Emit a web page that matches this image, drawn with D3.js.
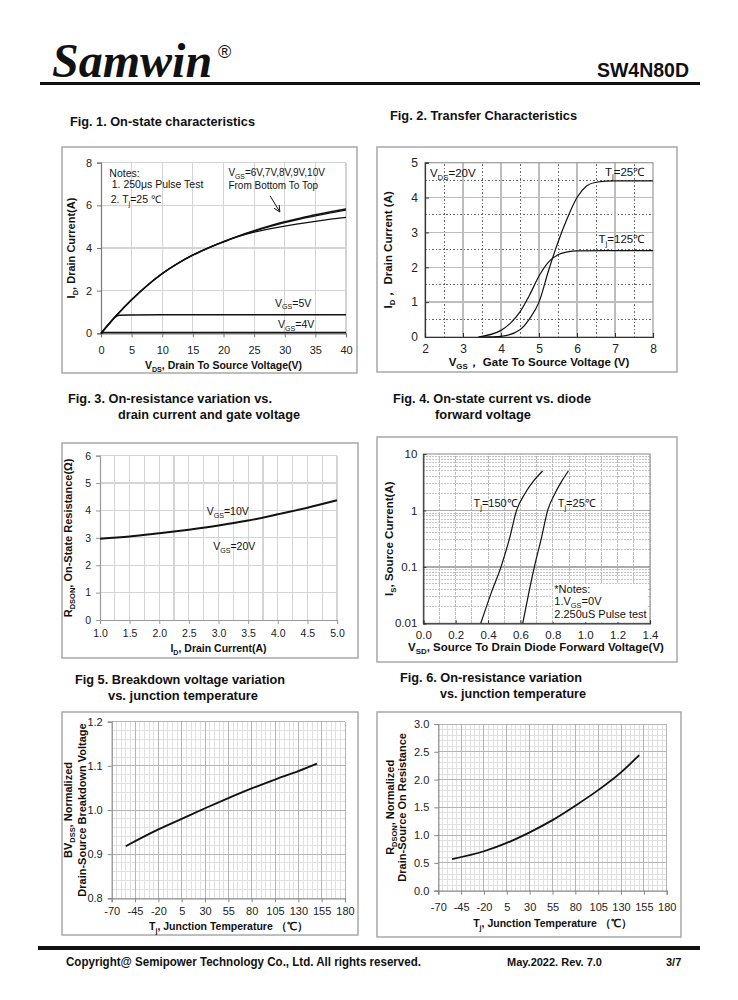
<!DOCTYPE html>
<html><head><meta charset="utf-8">
<script src="https://cdn.jsdelivr.net/npm/d3@7"></script>
<style>body{margin:0;background:#fff}svg{display:block}</style>
</head><body><svg id="c" width="738" height="1000" font-family="'Liberation Sans',Arial,sans-serif"></svg>
<script>
// ---------------- DATA ----------------
// Fig 1: On-state characteristics
const fig1Vds = [0,1,2.5,5,7.5,10,12.5,15,17.5,20,22.5,25,27.5,30,32.5,35,37.5,40];
const fig1Id10V = [0,0.34,0.83,1.57,2.23,2.8,3.27,3.67,4.0,4.3,4.57,4.81,5.03,5.23,5.4,5.56,5.7,5.83];
const fig1Id8V  = [0,0.34,0.83,1.57,2.23,2.8,3.27,3.67,4.0,4.3,4.56,4.79,5.0,5.19,5.36,5.51,5.65,5.78];
const fig1Id6V  = [0,0.34,0.83,1.57,2.23,2.8,3.27,3.67,4.0,4.28,4.54,4.74,4.9,5.03,5.14,5.25,5.35,5.44];
const fig1Vds5V = [0,1,2,2.5,3,5,10,20,40];
const fig1Id5V  = [0,0.34,0.67,0.8,0.85,0.86,0.87,0.87,0.87];
const fig1Vds4V = [0,0.5,40];
const fig1Id4V  = [0,0.04,0.04];
const fig1XTicks = [0,5,10,15,20,25,30,35,40];
const fig1YTicks = [0,2,4,6,8];
// Fig 2: Transfer characteristics
const fig2Vgs25 = [3.5,4.0,4.5,4.75,5.0,5.25,5.5,5.75,6.0,6.25,6.5,7.0,8.0];
const fig2Id25  = [0,0.02,0.21,0.52,1.0,1.9,2.72,3.42,4.0,4.33,4.44,4.48,4.48];
const fig2Vgs125 = [3.4,4.0,4.25,4.5,4.75,5.0,5.25,5.5,5.75,6.0,7.0,8.0];
const fig2Id125  = [0,0.19,0.4,0.72,1.2,1.75,2.15,2.36,2.44,2.47,2.48,2.48];
const fig2XTicks = [2,3,4,5,6,7,8];
const fig2YTicks = [0,1,2,3,4,5];
// Fig 3: On-resistance vs drain current
const fig3Id = [1.0,1.5,2.0,2.5,3.0,3.5,4.0,4.5,5.0];
const fig3R  = [2.97,3.05,3.17,3.3,3.45,3.63,3.86,4.1,4.37];
const fig3XTicks = [1.0,1.5,2.0,2.5,3.0,3.5,4.0,4.5,5.0];
const fig3YTicks = [0,1,2,3,4,5,6];
// Fig 4: Body diode forward voltage
const fig4Vsd150 = [0.355,0.42,0.48,0.53,0.576,0.628,0.68,0.737];
const fig4Is150  = [0.01,0.035,0.1,0.3,1,2,3.3,5];
const fig4Vsd25  = [0.614,0.65,0.686,0.73,0.768,0.813,0.855,0.896];
const fig4Is25   = [0.01,0.033,0.1,0.33,1,2,3.3,5];
const fig4XTicks = [0,0.2,0.4,0.6,0.8,1.0,1.2,1.4];
const fig4YTicks = [0.01,0.1,1,10];
// Fig 5: Breakdown voltage vs temperature
const tempC = [-55,-20,5,30,55,80,105,130,150];
const fig5BV = [0.918,0.956,0.98,1.004,1.027,1.049,1.069,1.088,1.105];
const fig5YTicks = [0.8,0.9,1.0,1.1,1.2];
// Fig 6: On-resistance vs temperature
const fig6R = [0.57,0.71,0.86,1.05,1.27,1.53,1.81,2.13,2.44];
const fig6YTicks = [0,0.5,1.0,1.5,2.0,2.5,3.0];
const tempTicks = [-70,-45,-20,5,30,55,80,105,130,155,180];

// ---------------- HELPERS ----------------
const SANS = "'Liberation Sans',Arial,sans-serif";
const svg = d3.select('#c');
svg.append('rect').attr('width',738).attr('height',1000).attr('fill','#fff');

function rich(t, parts, fs){
  let sub = false; const sh = fs*0.25;
  parts.forEach(p=>{
    if (typeof p === 'string'){
      const s = t.append('tspan').text(p);
      if (sub){ s.attr('dy', -sh); sub=false; }
    } else {
      t.append('tspan').text(p.s).attr('font-size', fs*0.68).attr('dy', sub?0:sh);
      sub = true;
    }
  });
  return t;
}
function label(g, x, y, parts, fs, opts={}){
  const t = g.append('text').attr('x',x).attr('y',y).attr('font-size',fs).attr('fill','#111')
    .attr('font-weight', opts.bold?'bold':'normal')
    .attr('text-anchor', opts.anchor||'start');
  if (opts.rot) t.attr('transform',`rotate(-90,${x},${y})`);
  rich(t, parts, fs);
  return t;
}
function panel(p){
  svg.append('rect').attr('x',p[0]).attr('y',p[1]).attr('width',p[2]-p[0]).attr('height',p[3]-p[1])
    .attr('fill','#fff').attr('stroke','#a8a8a8').attr('stroke-width',1.5);
}
function vgrid(g, x, y, vals, color, w, dash){
  g.append('g').selectAll('line').data(vals).join('line')
    .attr('x1',d=>x(d)).attr('x2',d=>x(d)).attr('y1',y.range()[0]).attr('y2',y.range()[1])
    .attr('stroke',color).attr('stroke-width',w).attr('stroke-dasharray',dash||null).attr('shape-rendering','crispEdges');
}
function hgrid(g, x, y, vals, color, w, dash){
  g.append('g').selectAll('line').data(vals).join('line')
    .attr('y1',d=>y(d)).attr('y2',d=>y(d)).attr('x1',x.range()[0]).attr('x2',x.range()[1])
    .attr('stroke',color).attr('stroke-width',w).attr('stroke-dasharray',dash||null).attr('shape-rendering','crispEdges');
}
function axes(g, x, y, o){
  const xa = g.append('g').attr('transform',`translate(0,${y.range()[0]})`)
    .call(d3.axisBottom(x).tickValues(o.xt).tickFormat(o.xf||(d=>d)).tickSize(o.ts).tickPadding(o.xp));
  const ya = g.append('g').attr('transform',`translate(${x.range()[0]},0)`)
    .call(d3.axisLeft(y).tickValues(o.yt).tickFormat(o.yf||(d=>d)).tickSize(o.ts).tickPadding(o.yp));
  [xa,ya].forEach(a=>{
    a.attr('font-family',SANS).attr('font-size',o.fs);
    a.selectAll('text').attr('fill','#222');
    a.select('.domain').attr('stroke',o.ac||'#777').attr('stroke-width',1.2);
    a.selectAll('.tick line').attr('stroke',o.ac||'#777');
  });
  xa.selectAll('text').attr('dy',null).attr('dominant-baseline','alphabetic').attr('y',o.xb);
}
function curve(g, x, y, xs, ys, w){
  const line = d3.line().x(d=>x(d[0])).y(d=>y(d[1])).curve(d3.curveMonotoneX);
  g.append('path').attr('d', line(xs.map((v,i)=>[v,ys[i]]))).attr('fill','none')
    .attr('stroke','#111').attr('stroke-width',w||1.4);
}

// ---------------- HEADER / FOOTER ----------------
svg.append('text').attr('x',52).attr('y',77).style('font-family',"'Liberation Serif','Times New Roman',serif")
  .attr('font-weight','bold').attr('font-style','italic').attr('font-size',48).attr('fill','#111').text('Samwin');
svg.append('text').attr('x',218).attr('y',58).attr('font-size',18).attr('fill','#111').text('®');
svg.append('text').attr('x',689).attr('y',77).attr('text-anchor','end').attr('font-weight','bold').attr('font-size',19.5).attr('fill','#111').text('SW4N80D');
svg.append('rect').attr('x',40).attr('y',82).attr('width',660).attr('height',3).attr('fill','#111');
svg.append('rect').attr('x',38).attr('y',946).attr('width',662).attr('height',4).attr('fill','#111');
svg.append('text').attr('x',66).attr('y',966).attr('font-weight','bold').attr('font-size',12.5).attr('fill','#111')
  .attr('textLength',355).attr('lengthAdjust','spacingAndGlyphs').text('Copyright@ Semipower Technology Co., Ltd. All rights reserved.');
svg.append('text').attr('x',507).attr('y',966).attr('font-weight','bold').attr('font-size',11).attr('fill','#111')
  .attr('textLength',95).attr('lengthAdjust','spacingAndGlyphs').text('May.2022. Rev. 7.0');
svg.append('text').attr('x',666).attr('y',966).attr('font-weight','bold').attr('font-size',11).attr('fill','#111').text('3/7');

const figTitles = [
  [70,126,'Fig. 1. On-state characteristics',185],
  [390,120,'Fig. 2. Transfer Characteristics',187],
  [68,403,'Fig. 3. On-resistance variation vs.',204],
  [118,419,'drain current and gate voltage',182],
  [393,403,'Fig. 4. On-state current vs. diode',198],
  [435,419,'forward voltage',96],
  [75,684,'Fig 5. Breakdown voltage variation',210],
  [108,700,'vs. junction temperature',150],
  [400,682,'Fig. 6. On-resistance variation',182],
  [440,698,'vs. junction temperature',146]
];
figTitles.forEach(d=>svg.append('text').attr('x',d[0]).attr('y',d[1]).attr('font-weight','bold').attr('fill','#111')
  .attr('font-size',12.5).attr('textLength',d[3]).attr('lengthAdjust','spacingAndGlyphs').text(d[2]));

// ---------------- FIG 1 ----------------
{
  panel([62,147,357,373]);
  const g = svg.append('g');
  const x = d3.scaleLinear().domain([0,40]).range([101,346]);
  const y = d3.scaleLinear().domain([0,8]).range([333.3,162.7]);
  vgrid(g,x,y,fig1XTicks.slice(1),'#d4d4d4',1.2);
  hgrid(g,x,y,fig1YTicks.slice(1),'#d4d4d4',1.2);
  axes(g,x,y,{xt:fig1XTicks,yt:fig1YTicks,ts:4,xp:8,yp:5,fs:11,xb:21});
  curve(g,x,y,fig1Vds,fig1Id6V,1.3);
  curve(g,x,y,fig1Vds,fig1Id8V,1.3);
  curve(g,x,y,fig1Vds,fig1Id10V,1.5);
  curve(g,x,y,fig1Vds5V,fig1Id5V,1.5);
  curve(g,x,y,fig1Vds4V,fig1Id4V,1.5);
  const fs=10.5;
  label(g,x(1.36),y(7.33),['Notes:'],fs);
  label(g,x(1.75),y(6.8),['1. 250μs  Pulse Test'],fs);
  label(g,x(1.58),y(6.09),['2. T',{s:'j'},'=25 ℃'],fs);
  label(g,x(20.8),y(7.36),['V',{s:'GS'},'=6V,7V,8V,9V,10V'],10);
  label(g,x(20.8),y(6.76),['From Bottom To Top'],10);
  label(g,x(28.4),y(1.25),['V',{s:'GS'},'=5V'],fs);
  label(g,x(28.9),y(0.23),['V',{s:'GS'},'=4V'],fs);
  // arrow
  const ax0=[27.6,6.45], ax1=[29.2,5.69];
  g.append('line').attr('x1',x(ax0[0])).attr('y1',y(ax0[1])).attr('x2',x(ax1[0])).attr('y2',y(ax1[1])).attr('stroke','#111').attr('stroke-width',1);
  const ang = Math.atan2(y(ax1[1])-y(ax0[1]), x(ax1[0])-x(ax0[0]));
  const hx=x(ax1[0]), hy=y(ax1[1]);
  g.append('path').attr('d',`M${hx-7*Math.cos(ang-0.45)},${hy-7*Math.sin(ang-0.45)}L${hx},${hy}L${hx-7*Math.cos(ang+0.45)},${hy-7*Math.sin(ang+0.45)}`)
    .attr('fill','none').attr('stroke','#111').attr('stroke-width',1);
  label(g,(101+346)/2,369,['V',{s:'DS'},', Drain To Source Voltage(V)'],10.5,{bold:true,anchor:'middle'});
  label(g,75,(162.7+333.3)/2,['I',{s:'D'},',  Drain Current(A)'],11,{bold:true,anchor:'middle',rot:true});
}

// ---------------- FIG 2 ----------------
{
  panel([377,147,677,372]);
  const g = svg.append('g');
  const x = d3.scaleLinear().domain([2,8]).range([425,653]);
  const y = d3.scaleLinear().domain([0,5]).range([337,162.7]);
  vgrid(g,x,y,[2.5,3.5,4.5,5.5,6.5,7.5],'#666',1,'1.5,2');
  hgrid(g,x,y,[0.5,1.5,2.5,3.5,4.5],'#666',1,'1.5,2');
  vgrid(g,x,y,[3,4,5,6,7],'#bdbdbd',1.5);
  hgrid(g,x,y,[1,2,3,4],'#bdbdbd',1.5);
  g.append('rect').attr('x',425).attr('y',162.7).attr('width',228).attr('height',337-162.7).attr('fill','none').attr('stroke','#999').attr('stroke-width',1.2);
  axes(g,x,y,{xt:fig2XTicks,yt:fig2YTicks,ts:-4,xp:9,yp:7,fs:12,ac:'#333',xb:16});
  curve(g,x,y,fig2Vgs25,fig2Id25,1.2);
  curve(g,x,y,fig2Vgs125,fig2Id125,1.2);
  const fs=11.5;
  label(g,x(2.13),y(4.6),['V',{s:'DS'},'=20V'],fs);
  label(g,x(7.77),y(4.62),['T',{s:'j'},'=25℃'],fs,{anchor:'end'});
  label(g,x(7.77),y(2.69),['T',{s:'j'},'=125℃'],fs,{anchor:'end'});
  label(g,539,366,['V',{s:'GS'},'， Gate To Source Voltage (V)'],11.5,{bold:true,anchor:'middle'});
  label(g,392,(162.7+337)/2,['I',{s:'D'},'，  Drain Current (A)'],11.5,{bold:true,anchor:'middle',rot:true});
}

// ---------------- FIG 3 ----------------
{
  panel([62,443,358,658]);
  const g = svg.append('g');
  const x = d3.scaleLinear().domain([1,5]).range([100,337]);
  const y = d3.scaleLinear().domain([0,6]).range([620,455.7]);
  vgrid(g,x,y,d3.range(1.25,5.01,0.25),'#d4d4d4',1.2);
  hgrid(g,x,y,fig3YTicks.slice(1),'#d4d4d4',1.2);
  axes(g,x,y,{xt:fig3XTicks,yt:fig3YTicks,ts:4,xp:8,yp:5,fs:10.5,xf:d3.format('.1f'),ac:'#999',xb:17});
  curve(g,x,y,fig3Id,fig3R,2);
  label(g,x(2.8),y(3.83),['V',{s:'GS'},'=10V'],10.5);
  label(g,x(2.91),y(2.55),['V',{s:'GS'},'=20V'],10.5);
  label(g,(100+337)/2,652,['I',{s:'D'},', Drain Current(A)'],10.5,{bold:true,anchor:'middle'});
  label(g,72,(455.7+620)/2,['R',{s:'DSON'},', On-State Resistance(Ω)'],11,{bold:true,anchor:'middle',rot:true});
}

// ---------------- FIG 4 ----------------
{
  panel([377,437,677,662]);
  const g = svg.append('g');
  const x = d3.scaleLinear().domain([0,1.4]).range([423.3,650]);
  const y = d3.scaleLog().domain([0.01,10]).range([623.3,454]);
  const minors = [];
  [0.01,0.1,1].forEach(b=>{for(let k=2;k<10;k++) minors.push(b*k);});
  hgrid(g,x,y,minors,'#c4c4c4',1,'2,1');
  vgrid(g,x,y,d3.range(0.1,1.41,0.1),'#bcbcbc',1,'3,1');
  hgrid(g,x,y,[0.1,1],'#aaaaaa',1.3);
  g.append('rect').attr('x',423.3).attr('y',454).attr('width',650-423.3).attr('height',623.3-454).attr('fill','none').attr('stroke','#999').attr('stroke-width',1.2);
  axes(g,x,y,{xt:fig4XTicks,yt:fig4YTicks,ts:-3,xp:7,yp:6,fs:11.5,xf:d3.format('.1f'),ac:'#333',xb:16});
  curve(g,x,y,fig4Vsd150,fig4Is150,1.2);
  curve(g,x,y,fig4Vsd25,fig4Is25,1.2);
  const fs=11;
  label(g,x(0.31),y(1.16),['T',{s:'j'},'=150℃'],fs);
  label(g,x(0.83),y(1.16),['T',{s:'j'},'=25℃'],fs);
  g.append('rect').attr('x',x(0.8)).attr('y',y(0.05)).attr('width',x(1.38)-x(0.8)).attr('height',y(0.0105)-y(0.05)).attr('fill','#fff');
  label(g,x(0.809),y(0.0348),['*Notes:'],fs);
  label(g,x(0.809),y(0.0211),['1.V',{s:'GS'},'=0V'],fs);
  label(g,x(0.809),y(0.0123),['2.250uS Pulse test'],fs);
  label(g,536,651,['V',{s:'SD'},', Source To Drain Diode Forward Voltage(V)'],11.5,{bold:true,anchor:'middle'});
  label(g,393,(454+623.3)/2,['I',{s:'S'},', Source Current(A)'],11.5,{bold:true,anchor:'middle',rot:true});
}

// ---------------- FIG 5 ----------------
{
  panel([62,712,358,935]);
  const g = svg.append('g');
  const x = d3.scaleLinear().domain([-70,180]).range([111.7,345]);
  const y = d3.scaleLinear().domain([0.8,1.2]).range([898.3,721.7]);
  vgrid(g,x,y,d3.range(-65,181,5),'#e0e0e0',1);
  hgrid(g,x,y,d3.range(0.82,1.201,0.02),'#e0e0e0',1);
  vgrid(g,x,y,tempTicks.slice(1),'#b4b4b4',1);
  hgrid(g,x,y,fig5YTicks.slice(1),'#b4b4b4',1);
  axes(g,x,y,{xt:tempTicks,yt:fig5YTicks,ts:4,xp:9,yp:5,fs:11,yf:d3.format('.1f'),ac:'#888',xb:17});
  curve(g,x,y,tempC,fig5BV,1.8);
  label(g,(111.7+345)/2,930,['T',{s:'j'},', Junction Temperature （℃）'],10.5,{bold:true,anchor:'middle'});
  label(g,72,(721.7+898.3)/2,['BV',{s:'DSS'},', Normalized'],11,{bold:true,anchor:'middle',rot:true});
  label(g,86,(721.7+898.3)/2,['Drain-Source Breakdown Voltage'],11,{bold:true,anchor:'middle',rot:true});
}

// ---------------- FIG 6 ----------------
{
  panel([377,712,681,937]);
  const g = svg.append('g');
  const x = d3.scaleLinear().domain([-70,180]).range([438.3,666.7]);
  const y = d3.scaleLinear().domain([0,3]).range([890.7,724]);
  vgrid(g,x,y,d3.range(-65,181,5),'#e0e0e0',1);
  hgrid(g,x,y,d3.range(0.1,3.01,0.1),'#e0e0e0',1);
  vgrid(g,x,y,tempTicks.slice(1),'#b4b4b4',1);
  hgrid(g,x,y,fig6YTicks.slice(1),'#b4b4b4',1);
  axes(g,x,y,{xt:tempTicks,yt:fig6YTicks,ts:4,xp:9,yp:5,fs:11,yf:d3.format('.1f'),ac:'#888',xb:20});
  curve(g,x,y,tempC,fig6R,1.8);
  label(g,(438.3+666.7)/2,927,['T',{s:'j'},', Junction Temperature （℃）'],10.5,{bold:true,anchor:'middle'});
  label(g,394,(724+890.7)/2,['R',{s:'DSON'},', Normalized'],11,{bold:true,anchor:'middle',rot:true});
  label(g,406,(724+890.7)/2,['Drain-Source On Resistance'],11,{bold:true,anchor:'middle',rot:true});
}
</script></body></html>
